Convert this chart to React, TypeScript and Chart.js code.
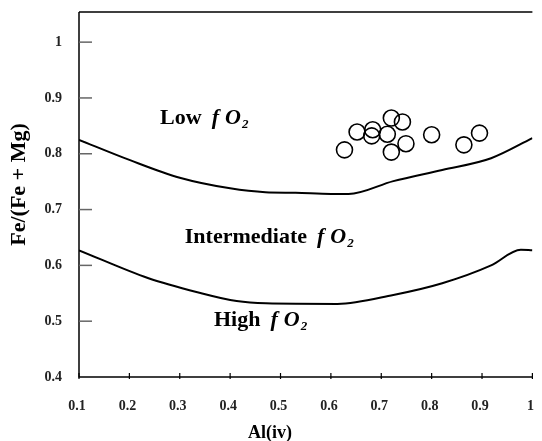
import React, { useEffect, useRef } from "react";
import { Chart, registerables } from "chart.js";

Chart.register(...registerables);

// ---- Data ----
const upperX = [0.1, 0.2, 0.3, 0.4, 0.47, 0.53, 0.6, 0.635, 0.724, 0.821, 0.918, 1.0];
const upperY = [0.825, 0.789, 0.757, 0.738, 0.731, 0.730, 0.728, 0.728, 0.751, 0.771, 0.792, 0.828];
const lowerX = [0.1, 0.238, 0.335, 0.413, 0.471, 0.613, 0.724, 0.821, 0.918, 0.977, 1.0];
const lowerY = [0.627, 0.577, 0.552, 0.536, 0.532, 0.531, 0.547, 0.568, 0.6, 0.628, 0.627];
const sampleX = [0.627, 0.652, 0.683, 0.681, 0.72, 0.742, 0.712, 0.72, 0.749, 0.8, 0.864, 0.895];
const sampleY = [0.807, 0.839, 0.843, 0.832, 0.864, 0.857, 0.835, 0.803, 0.818, 0.834, 0.816, 0.837];
const xTicks = [0.1, 0.2, 0.3, 0.4, 0.5, 0.6, 0.7, 0.8, 0.9, 1.0];
const xTickLabels = ["0.1", "0.2", "0.3", "0.4", "0.5", "0.6", "0.7", "0.8", "0.9", "1"];
const yTicks = [0.4, 0.5, 0.6, 0.7, 0.8, 0.9, 1.0];
const yTickLabels = ["0.4", "0.5", "0.6", "0.7", "0.8", "0.9", "1"];
const zoneWords = ["Low", "Intermediate", "High"];
const zoneX = [0.261, 0.31, 0.368];
const zoneY = [0.853, 0.64, 0.491];
const xTitle = "Al(iv)";
const yTitle = "Fe/(Fe + Mg)";

const SERIF = '"Liberation Serif", "Times New Roman", serif';

const overlay = {
  id: "overlay",
  afterDraw(chart: any) {
    const ctx = chart.ctx as CanvasRenderingContext2D;
    const { left, right, top, bottom } = chart.chartArea;
    const xs = chart.scales.x;
    const ys = chart.scales.y;
    ctx.save();
    // axes frame
    ctx.strokeStyle = "#000";
    ctx.lineWidth = 1.5;
    ctx.beginPath();
    ctx.moveTo(left, top);
    ctx.lineTo(right, top);
    ctx.moveTo(left, top);
    ctx.lineTo(left, bottom);
    ctx.lineTo(right, bottom);
    ctx.stroke();
    // y ticks (grey, inside)
    ctx.strokeStyle = "#666";
    ctx.lineWidth = 1.5;
    yTicks.forEach((v) => {
      const py = ys.getPixelForValue(v);
      if (v === yTicks[0]) return;
      ctx.beginPath();
      ctx.moveTo(left, py);
      ctx.lineTo(left + 13, py);
      ctx.stroke();
    });
    // x ticks
    ctx.strokeStyle = "#000";
    ctx.lineWidth = 1.2;
    xTicks.forEach((v) => {
      const px = xs.getPixelForValue(v);
      ctx.beginPath();
      ctx.moveTo(px, bottom - 4);
      ctx.lineTo(px, bottom + 2);
      ctx.stroke();
    });
    // tick labels
    ctx.fillStyle = "#222";
    ctx.font = `bold 14px ${SERIF}`;
    ctx.textBaseline = "middle";
    ctx.textAlign = "center";
    xTicks.forEach((v, i) => {
      ctx.fillText(xTickLabels[i], xs.getPixelForValue(v) - 2, bottom + 29);
    });
    ctx.textAlign = "right";
    yTicks.forEach((v, i) => {
      ctx.fillText(yTickLabels[i], left - 17, ys.getPixelForValue(v));
    });
    // axis titles
    ctx.fillStyle = "#000";
    ctx.font = `bold 18px ${SERIF}`;
    ctx.textAlign = "center";
    ctx.fillText(xTitle, 270, bottom + 56);
    ctx.font = `bold 22px ${SERIF}`;
    ctx.save();
    ctx.translate(19, (top + bottom) / 2 - 10);
    ctx.rotate(-Math.PI / 2);
    ctx.fillText(yTitle, 0, 0);
    ctx.restore();
    // zone labels
    ctx.textAlign = "left";
    ctx.textBaseline = "alphabetic";
    const size = 22;
    zoneWords.forEach((w, i) => {
      let x = xs.getPixelForValue(zoneX[i]);
      const y = ys.getPixelForValue(zoneY[i]);
      ctx.font = `bold ${size}px ${SERIF}`;
      ctx.fillText(w, x, y);
      x += ctx.measureText(w).width + 10;
      ctx.font = `italic bold ${size}px ${SERIF}`;
      ctx.fillText("f", x, y);
      x += ctx.measureText("f").width + 6;
      ctx.fillText("O", x, y);
      x += ctx.measureText("O").width + 1;
      ctx.font = `italic bold ${Math.round(size * 0.6)}px ${SERIF}`;
      ctx.fillText("2", x, y + 4);
    });
    ctx.restore();
  },
};

export default function App() {
  const ref = useRef<HTMLCanvasElement>(null);
  useEffect(() => {
    if (!ref.current) return;
    const fixPad = (s: any) => {
      s.paddingLeft = 0;
      s.paddingRight = 0;
      s.paddingTop = 0;
      s.paddingBottom = 0;
    };
    const chart = new Chart(ref.current, {
      type: "scatter",
      data: {
        datasets: [
          {
            type: "line",
            data: upperX.map((x, i) => ({ x, y: upperY[i] })),
            borderColor: "#000",
            borderWidth: 2,
            pointRadius: 0,
            fill: false,
            cubicInterpolationMode: "monotone",
          } as any,
          {
            type: "line",
            data: lowerX.map((x, i) => ({ x, y: lowerY[i] })),
            borderColor: "#000",
            borderWidth: 2,
            pointRadius: 0,
            fill: false,
            cubicInterpolationMode: "monotone",
          } as any,
          {
            type: "scatter",
            data: sampleX.map((x, i) => ({ x, y: sampleY[i] })),
            pointRadius: 8,
            pointBorderWidth: 1.6,
            borderColor: "#000",
            pointBorderColor: "#000",
            pointBackgroundColor: "rgba(0,0,0,0)",
          } as any,
        ],
      },
      options: {
        animation: false,
        responsive: false,
        layout: { padding: { top: 12, left: 0, right: 0, bottom: 0 } },
        plugins: { legend: { display: false }, tooltip: { enabled: false } },
        scales: {
          x: {
            type: "linear",
            min: 0.1,
            max: 1.0,
            ticks: { display: false },
            grid: { display: false },
            border: { display: false },
            afterFit: (s: any) => {
              s.height = 64;
              fixPad(s);
            },
          },
          y: {
            type: "linear",
            min: 0.4,
            max: 1.054,
            ticks: { display: false },
            grid: { display: false },
            border: { display: false },
            afterFit: (s: any) => {
              s.width = 79;
              fixPad(s);
            },
          },
        },
      },
      plugins: [overlay],
    });
    return () => chart.destroy();
  }, []);
  return (
    <div style={{ position: "absolute", left: 0, top: 0, width: 542, height: 441, background: "#fff" }}>
      <canvas ref={ref} width={542} height={441} />
    </div>
  );
}
